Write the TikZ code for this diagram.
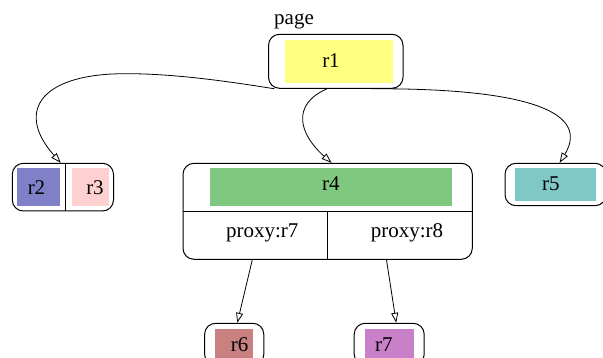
\documentclass[tikz,border=0pt]{standalone}
\usepackage{fontspec}
\setmainfont{Liberation Serif}
\usetikzlibrary{arrows.meta}
\definecolor{cyellow}{HTML}{FFFF80}
\definecolor{cgreen}{HTML}{80C880}
\definecolor{cblue}{HTML}{8080C8}
\definecolor{cpink}{HTML}{FFD0D0}
\definecolor{cteal}{HTML}{80C8C8}
\definecolor{crose}{HTML}{C88080}
\definecolor{cviolet}{HTML}{C880C8}
\tikzset{
  recbox/.style={draw, rounded corners=11pt, line width=1pt, inner sep=0pt},
  patch/.style={draw=none, inner sep=0pt},
  lbl/.style={anchor=base, inner sep=0pt, font=\fontsize{21}{24}\selectfont},
  link/.style={line width=0.8pt, -{Triangle[open, length=10pt, width=7pt]}},
}
\begin{document}
\begin{tikzpicture}[x=1pt, y=-1pt]
\useasboundingbox (0,0) rectangle (603,358);
\clip (0,0) rectangle (603,358);

% page cluster label
\node[lbl] (page) at (294,25) {page};

% r1
\node[recbox, minimum width=134.5pt, minimum height=54pt] (r1box) at (335.75,61.3) {};
\node[patch, fill=cyellow, minimum width=108.4pt, minimum height=42.7pt] (r1fill) at (338.8,61.35) {};
\node[lbl] (r1) at (331,67.5) {r1};

% r2 | r3 record
\node[recbox, minimum width=101.2pt, minimum height=47.7pt] (r23) at (62.9,187.15) {};
\node[patch, fill=cblue, minimum width=42.3pt, minimum height=37.4pt] (r2fill) at (38.45,187) {};
\node[patch, fill=cpink, minimum width=37pt, minimum height=37.4pt] (r3fill) at (90,187) {};
\draw[line width=1pt] ([xshift=2.9pt]r23.north) -- ([xshift=2.9pt]r23.south);
\node[lbl] (r2) at (36.5,195) {r2};
\node[lbl] (r3) at (95,195) {r3};

% r4 record with proxy cells
\node[recbox, minimum width=289.3pt, minimum height=96pt] (r4box) at (327.65,211.3) {};
\node[patch, fill=cgreen, minimum width=242pt, minimum height=37.4pt] (r4fill) at (331,187) {};
\draw[line width=1pt] (r4box.west) -- (r4box.east);
\draw[line width=1pt] (r4box.center) -- (r4box.south);
\node[lbl] (r4) at (330.8,190.5) {r4};
\node[lbl] (p7) at (262.3,237.5) {proxy:r7};
\node[lbl] (p8) at (407,237.5) {proxy:r8};

% r5
\node[recbox, minimum width=101pt, minimum height=42.4pt] (r5box) at (555.5,184.5) {};
\node[patch, fill=cteal, minimum width=80.6pt, minimum height=32.4pt] (r5fill) at (555.7,184.5) {};
\node[lbl] (r5) at (550.8,190.5) {r5};

% r6
\node[recbox, minimum width=59.2pt, minimum height=42pt] (r6box) at (234.2,344.3) {};
\node[patch, fill=crose, minimum width=38.4pt, minimum height=31pt] (r6fill) at (233.8,344.5) {};
\node[lbl] (r6) at (239.6,352) {r6};

% r7
\node[recbox, minimum width=70pt, minimum height=42pt] (r7box) at (389.2,344.3) {};
\node[patch, fill=cviolet, minimum width=49.6pt, minimum height=31pt] (r7fill) at (389.4,344.5) {};
\node[lbl] (r7) at (383.8,352) {r7};

% edges from r1
\draw[link] ([xshift=6.5pt]r1box.south west)
  .. controls (220,80) and (160,72) .. (112,74)
  .. controls (36,78) and (18,115) .. ([xshift=-2.2pt]r23.north);
\draw[link] ([xshift=-8.7pt]r1box.south)
  .. controls (290,105) and (300,135) .. ([xshift=3.9pt]r4box.north);
\draw[link] ([xshift=35.3pt]r1box.south)
  .. controls (520,88) and (592,110) .. ([xshift=4.1pt]r5box.north);

% edges from the proxy cells
\draw[link] ([xshift=-75.35pt]r4box.south) -- ([xshift=3.1pt]r6box.north);
\draw[link] ([xshift=58.85pt]r4box.south) -- ([xshift=7pt]r7box.north);
\end{tikzpicture}
\end{document}
